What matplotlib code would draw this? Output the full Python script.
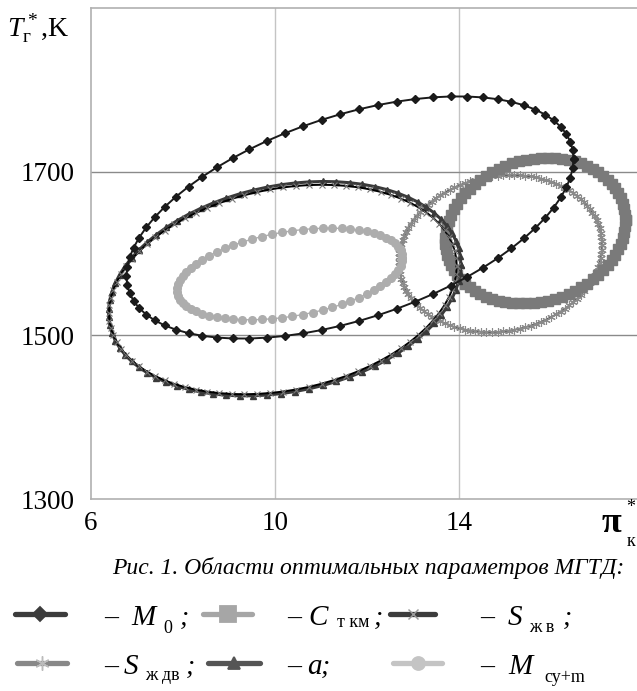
import numpy as np
import matplotlib.pyplot as plt

plt.rcParams['font.family'] = ['Liberation Serif', 'DejaVu Serif']
plt.rcParams['mathtext.fontset'] = 'custom'
plt.rcParams['mathtext.rm'] = 'Liberation Serif'
plt.rcParams['mathtext.it'] = 'Liberation Serif:italic'
plt.rcParams['mathtext.bf'] = 'Liberation Serif:bold'

# regions of optimal parameters, read off the picture as ellipses
# (centre, half-extent along each axis, phase between pi_k and T_g)
series = ['M0', 'C_tkm', 'S_zhv', 'S_zhdv', 'a', 'M_cy']
center_pi = [11.63, 15.66, 10.17, 14.90, 10.21, 10.32]
center_T = [1644, 1628, 1556, 1600, 1557, 1575]
half_pi = [4.86, 1.96, 3.78, 2.21, 3.83, 2.45]
half_T = [148, 89, 128, 96, 131, 56]
phase_deg = [61, 82, 77, 84, 77, 69]
n_points = [75, 80, 85, 115, 80, 70]

x_ticks = [6, 10, 14]
y_ticks = [1300, 1500, 1700]

styles = {
    'M0':     dict(color='#1a1a1a', lw=1.4, marker='D', ms=4.0, mfc='#1a1a1a', mec='#1a1a1a'),
    'C_tkm':  dict(color='#7a7a7a', lw=1.0, marker='s', ms=6.5, mfc='#7a7a7a', mec='#7a7a7a'),
    'S_zhdv': dict(color='#5a5a5a', lw=1.3, marker=(6, 2, 0), ms=6.0, mfc='#8a8a8a', mec='#8a8a8a', mew=0.8),
    'a':      dict(color='#3a3a3a', lw=2.2, marker='^', ms=5.0, mfc='#3a3a3a', mec='#3a3a3a'),
    'S_zhv':  dict(color='#000000', lw=1.4, marker='x', ms=4.5, mfc='#777777', mec='#777777', mew=0.8),
    'M_cy':   dict(color='#b0b0b0', lw=1.0, marker='o', ms=5.5, mfc='#adadad', mec='#adadad'),
}
legend_colors = {'M0': '#3c3c3c', 'C_tkm': '#a6a6a6', 'S_zhv': '#3c3c3c',
                 'S_zhdv': '#888888', 'a': '#555555', 'M_cy': '#c4c4c4'}
legend_marker_colors = {'M0': '#3c3c3c', 'C_tkm': '#a6a6a6', 'S_zhv': '#999999',
                        'S_zhdv': '#bbbbbb', 'a': '#555555', 'M_cy': '#c4c4c4'}

W, H = 637, 691
fig = plt.figure(figsize=(W / 100, H / 100), dpi=100)
ax = fig.add_axes([91 / W, 1 - 499 / H, 1 - 91 / W, 491 / H])
ax.set_xlim(6, 6 + (W - 91) / 46)
ax.set_ylim(1300, 1900)

order = ['S_zhdv', 'C_tkm', 'M_cy', 'a', 'S_zhv', 'M0']
for name in order:
    i = series.index(name)
    t = np.linspace(0, 2 * np.pi, n_points[i])
    ph = np.radians(phase_deg[i])
    xs = center_pi[i] + half_pi[i] * np.cos(t)
    ys = center_T[i] + half_T[i] * np.cos(t - ph)
    ax.plot(xs, ys, zorder=3, **styles[name])

ax.set_xticks(x_ticks)
ax.set_yticks(y_ticks)
ax.tick_params(length=0, labelsize=19.5)
ax.tick_params(axis='x', pad=9)
ax.tick_params(axis='y', pad=12)
ax.grid(False)
for v in [10, 14]:
    ax.axvline(v, color='#c4c4c4', lw=1.0, zorder=1)
for v in [1500, 1700]:
    ax.axhline(v, color='#8a8a8a', lw=1.0, zorder=1)
for side in ['left', 'bottom', 'top']:
    ax.spines[side].set_color('#b0b0b0')
    ax.spines[side].set_linewidth(1.2)
ax.spines['right'].set_visible(False)

# overlay in pixel units for titles, caption and legend
lg = fig.add_axes([0, 0, 1, 1], facecolor='none')
lg.set_xlim(0, W)
lg.set_ylim(H, 0)
lg.axis('off')

# axis titles
lg.text(7, 28, r'$T^*_{\mathrm{г}}$,K', fontsize=20, va='center', ha='left')
lg.text(611, 524, 'π', fontsize=26, fontweight='bold', ha='center', va='center')
lg.text(631, 508, '*', fontsize=13, ha='center', va='center')
lg.text(631, 542, 'к', fontsize=13, ha='center', va='center')

# caption
lg.text(368, 568, 'Рис. 1. Области оптимальных параметров МГТД:',
        fontsize=17, style='italic', ha='center', va='center')

# hand-made legend: (series, sample x0, x1, dash x, letter x, letter, sub x, sub, sub drop, semicolon x)
legend_rows = [
    [('M0', 15, 65, 104, 131, 'M', 163, '0', 8, 180),
     ('C_tkm', 203, 252, 287, 308, 'C', 337, 'т км', 2, 374),
     ('S_zhv', 390, 435, 480, 508, 'S', 529, 'ж в', 7, 563)],
    [('S_zhdv', 17, 67, 104, 124, 'S', 145, 'ж дв', 6, 186),
     ('a', 208, 260, 287, 307, 'a', None, '', 0, 321),
     ('M_cy', 393, 442, 480, 508, 'M', 544, 'су+m', 8, None)],
]
row_y = [614, 663]
for ry, row in zip(row_y, legend_rows):
    base = ry + 11
    for name, x0, x1, dx, lx, letter, sx, sub, drop, semi in row:
        st = styles[name]
        lg.plot([x0, x1], [ry, ry], color=legend_colors[name], lw=3.8, solid_capstyle='round')
        lg.plot([(x0 + x1) / 2], [ry], linestyle='none', marker=st['marker'], ms=st['ms'] * 1.7,
                mfc=legend_marker_colors[name], mec=legend_marker_colors[name],
                mew=st.get('mew', 1.0) * 1.3)
        lg.text(dx, base, '–', fontsize=20, ha='left', va='baseline')
        lg.text(lx, base, letter, fontsize=21, style='italic', ha='left', va='baseline')
        if sx is not None:
            lg.text(sx, base + drop, sub, fontsize=13, ha='left', va='baseline')
        if semi is not None:
            lg.text(semi, base, ';', fontsize=20, style='italic', ha='left', va='baseline')

fig.savefig('out.png', dpi=100)
